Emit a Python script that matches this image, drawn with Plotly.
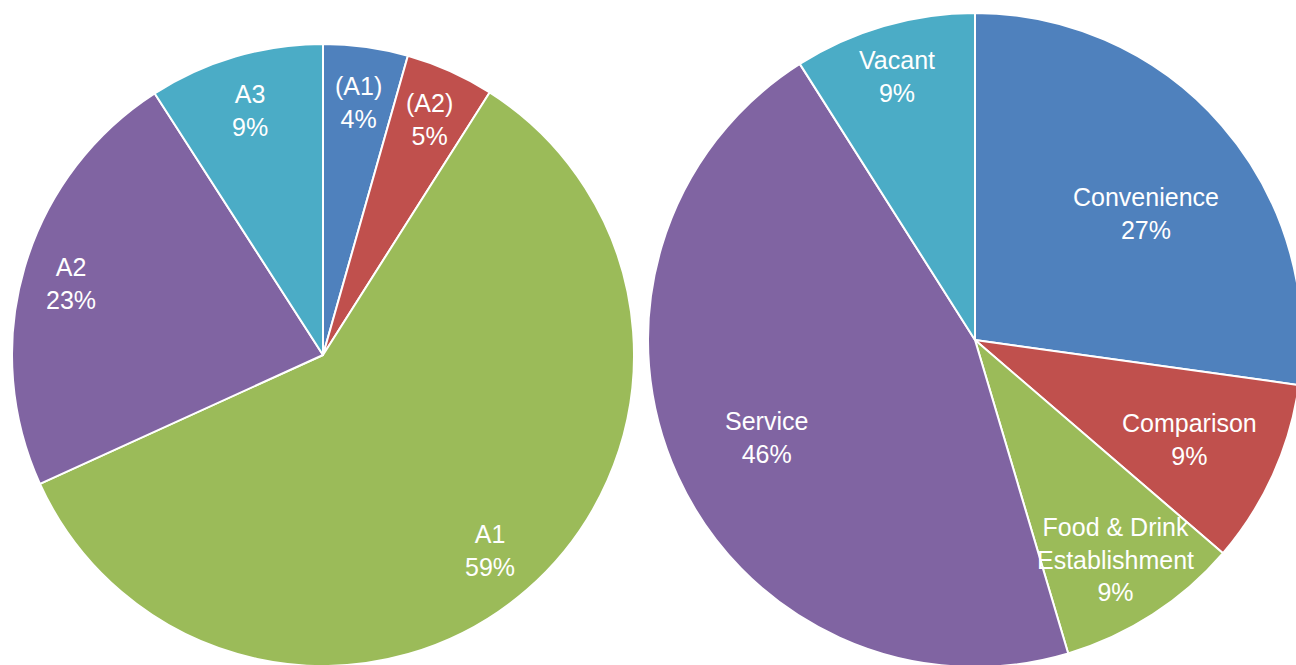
import math
import plotly.graph_objects as go

# --- data ---
left_labels = ["(A1)", "(A2)", "A1", "A2", "A3"]
left_values = [4.4, 4.6, 59.2, 22.7, 9.1]

right_labels = ["Convenience", "Comparison", "Food & Drink<br>Establishment", "Service", "Vacant"]
right_values = [27.2, 9.1, 9.1, 45.6, 9.0]

colors = ["#4F81BD", "#C0504D", "#9BBB59", "#8064A2", "#4BACC6"]

# --- layout constants (pixels) ---
# the figure is a bit larger than the window so the right pie gets cropped
W, H = 1304, 668
FONT = "Liberation Sans, Arial, sans-serif"
LABEL_SIZE = 25
TEXT_DROP = 3  # nudge labels down a touch so glyphs sit centred

# pie boxes in pixels: left, right, top, bottom
left_box = (12, 634, 44, 666)
right_box = (648, 1302, 13, 667)
# where labels sit: fraction of radius and angle tweak (deg) per slice
left_label_r = [0.83, 0.84, 0.82, 0.845, 0.83]
left_label_turn = [0, 0, 0, 0, 0]
right_label_r = [0.655, 0.72, 0.79, 0.70, 0.85]
right_label_turn = [4, 0, 0, 0, 0]


def domain(box):
    x0, x1, y0, y1 = box
    return dict(x=[x0 / W, x1 / W], y=[1 - y1 / H, 1 - y0 / H])


def label_annotations(labels, values, box, radii, turns):
    x0, x1, y0, y1 = box
    cx, cy = (x0 + x1) / 2, (y0 + y1) / 2
    r = min(x1 - x0, y1 - y0) / 2
    total = sum(values)
    anns = []
    cum = 0
    for lab, v, rf, turn in zip(labels, values, radii, turns):
        mid = (cum + v / 2) / total * 2 * math.pi + math.radians(turn)
        cum += v
        px = cx + rf * r * math.sin(mid)
        py = cy - rf * r * math.cos(mid) + TEXT_DROP
        anns.append(dict(
            x=px / W, y=1 - py / H, xref="paper", yref="paper",
            text=f"{lab}<br>{round(100 * v / total)}%",
            showarrow=False, xanchor="center", yanchor="middle",
            font=dict(family=FONT, size=LABEL_SIZE, color="white"),
        ))
    return anns


fig = go.Figure()

fig.add_trace(go.Pie(
    labels=left_labels, values=left_values, domain=domain(left_box),
    sort=False, direction="clockwise", rotation=0,
    marker=dict(colors=colors, line=dict(color="white", width=2)),
    textinfo="none", showlegend=False,
))
fig.add_trace(go.Pie(
    labels=right_labels, values=right_values, domain=domain(right_box),
    sort=False, direction="clockwise", rotation=0,
    marker=dict(colors=colors, line=dict(color="white", width=2)),
    textinfo="none", showlegend=False,
))

annotations = (label_annotations(left_labels, left_values, left_box, left_label_r, left_label_turn)
               + label_annotations(right_labels, right_values, right_box, right_label_r, right_label_turn))

fig.update_layout(
    width=W, height=H,
    margin=dict(l=0, r=0, t=0, b=0),
    paper_bgcolor="white",
    plot_bgcolor="white",
    font=dict(family=FONT),
    annotations=annotations,
)

# pin the figure to the window corner and crop what runs past the edge
fig.write_html(
    "out.html",
    config={"displayModeBar": False},
    post_script="document.body.style.margin = '0'; document.body.style.overflow = 'hidden';",
)
